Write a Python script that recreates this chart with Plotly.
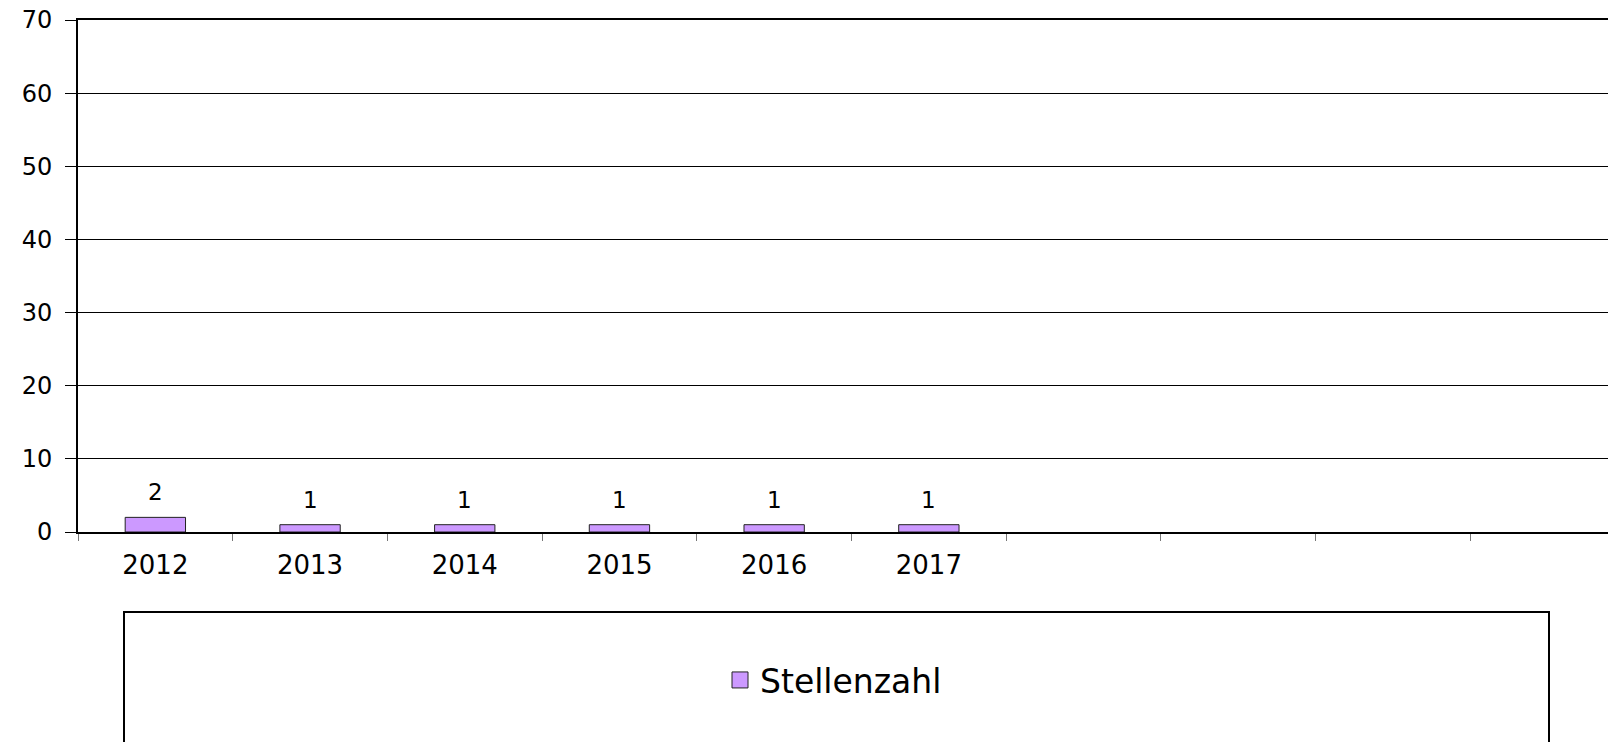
import plotly.graph_objects as go

# Data
years = ["2012", "2013", "2014", "2015", "2016", "2017"]
values = [2, 1, 1, 1, 1, 1]
blank_slots = [" ", "  ", "   ", "    "]   # empty categories on the axis
series_name = "Stellenzahl"
y_ticks = [0, 10, 20, 30, 40, 50, 60, 70]

FONT = "DejaVu Sans, Liberation Sans, Arial, sans-serif"
BAR_COLOR = "#CC99FF"
W, H = 1608, 742
L, T, B = 78, 20, 210
plot_h = H - T - B
plot_w = W - L

fig = go.Figure()
fig.add_trace(go.Bar(
    x=years, y=values, name=series_name,
    marker=dict(color=BAR_COLOR, line=dict(color="#222222", width=1)),
    width=0.39, showlegend=False,
))
# legend key (larger square like the original)
fig.add_trace(go.Scatter(
    x=[None], y=[None], mode="markers", name=series_name,
    marker=dict(symbol="square", size=20, color=BAR_COLOR,
                line=dict(color="#222222", width=1)),
    showlegend=True,
))

for i, v in enumerate(values):
    fig.add_annotation(x=i, y=v, text=str(v), showarrow=False,
                       yanchor="bottom", yshift=10,
                       font=dict(family=FONT, size=23, color="black"))

# legend frame
fig.add_shape(type="rect", xref="paper", yref="paper",
              x0=(124 - L) / plot_w, x1=(1549 - L) / plot_w,
              y0=-(760 - (T + plot_h)) / plot_h,
              y1=-(612 - (T + plot_h)) / plot_h,
              line=dict(color="black", width=2), fillcolor="rgba(0,0,0,0)")

fig.update_layout(
    width=W, height=H,
    margin=dict(l=L, r=0, t=T, b=B, pad=0),
    paper_bgcolor="white", plot_bgcolor="white",
    font=dict(family=FONT, color="black"),
    showlegend=True,
    legend=dict(
        orientation="h", x=(720 - L) / plot_w, xanchor="left",
        y=-(680 - (T + plot_h)) / plot_h, yanchor="middle",
        font=dict(family=FONT, size=33, color="black"),
        bgcolor="rgba(0,0,0,0)", borderwidth=0,
    ),
    xaxis=dict(
        type="category",
        categoryorder="array", categoryarray=years + blank_slots,
        range=[-0.5, 9.39],
        showline=True, linecolor="black", linewidth=2, mirror=True,
        ticks="outside", tickson="boundaries", ticklen=7, tickcolor="#777777", tickwidth=1,
        tickfont=dict(family=FONT, size=26, color="black"),
        ticklabelstandoff=9,
        showgrid=False, zeroline=False, fixedrange=True,
    ),
    yaxis=dict(
        range=[0, 70], tickvals=y_ticks,
        showline=True, linecolor="black", linewidth=2,
        ticks="outside", ticklen=11, tickcolor="black", tickwidth=1,
        tickfont=dict(family=FONT, size=24, color="black"),
        ticklabelstandoff=8,
        showgrid=True, gridcolor="black", gridwidth=1,
        zeroline=False, fixedrange=True,
    ),
)

fig.write_html("out.html")
